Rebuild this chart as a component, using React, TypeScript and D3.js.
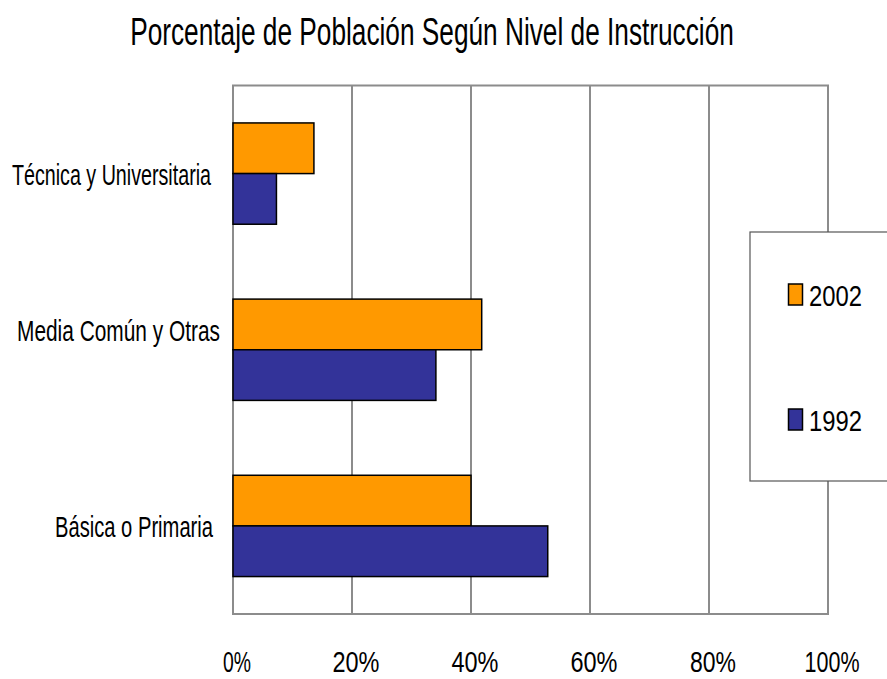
import { useEffect, useRef } from 'react'
import * as d3 from 'd3'

const categories = ['Técnica y Universitaria', 'Media Común y Otras', 'Básica o Primaria']
const series = ['2002', '1992']
const values2002 = [13.6, 41.8, 40.0]
const values1992 = [7.3, 34.1, 52.9]
const xTicks = [0, 20, 40, 60, 80, 100]
const title = 'Porcentaje de Población Según Nivel de Instrucción'

const colors: Record<string, string> = { '2002': '#FF9900', '1992': '#333399' }
const FONT = "'Liberation Sans Narrow', 'Liberation Sans', Arial, sans-serif"

const App = () => {
  const svgRef = useRef<SVGSVGElement | null>(null)
  const width = 887
  const height = 679
  const margin = { top: 85.5, right: 59, bottom: 65, left: 233 }

  useEffect(() => {
    if (!svgRef.current) return
    const svg = d3.select(svgRef.current)
    svg.selectAll('*').remove()

    const x = d3.scaleLinear().domain([0, 100]).range([margin.left, width - margin.right])
    const y = d3.scaleBand().domain(categories).range([margin.top, height - margin.bottom])
    const groupH = y.bandwidth() * 0.575
    const inner = d3.scaleBand().domain(series).range([0, groupH])

    // plot frame + vertical gridlines
    svg.append('rect')
      .attr('x', x(0)).attr('y', y.range()[0])
      .attr('width', x(100) - x(0)).attr('height', y.range()[1] - y.range()[0])
      .attr('fill', 'none').attr('stroke', '#8c8c8c').attr('stroke-width', 2)

    svg.append('g').selectAll('line')
      .data(xTicks.slice(1))
      .enter().append('line')
      .attr('x1', d => x(d)).attr('x2', d => x(d))
      .attr('y1', y.range()[0]).attr('y2', y.range()[1])
      .attr('stroke', '#8c8c8c').attr('stroke-width', 2)

    // bars
    const rows = categories.map((c, i) => ({ c, v: { '2002': values2002[i], '1992': values1992[i] } as Record<string, number> }))
    const g = svg.append('g')
    rows.forEach(r => {
      const y0 = (y(r.c) as number) + (y.bandwidth() - groupH) / 2
      series.forEach(s => {
        g.append('rect')
          .attr('x', x(0))
          .attr('y', y0 + (inner(s) as number))
          .attr('width', x(r.v[s]) - x(0))
          .attr('height', inner.bandwidth())
          .attr('fill', colors[s])
          .attr('stroke', '#000').attr('stroke-width', 1.5)
      })
    })

    // category labels
    const labelEnd = [211, 220, 213]
    const labelLen = [199, 203, 158]
    const labelShift = [0, -20, 0]
    svg.append('g').selectAll('text')
      .data(categories)
      .enter().append('text')
      .attr('x', (_, i) => labelEnd[i])
      .attr('y', (d, i) => (y(d) as number) + y.bandwidth() / 2 + 11 + labelShift[i])
      .attr('text-anchor', 'end')
      .attr('textLength', (_, i) => labelLen[i])
      .attr('lengthAdjust', 'spacingAndGlyphs')
      .style('font-family', FONT).style('font-size', '30px')
      .text(d => d)

    // x tick labels
    const tickLen: Record<number, number> = { 0: 28, 20: 47, 40: 47, 60: 47, 80: 46, 100: 55 }
    svg.append('g').selectAll('text')
      .data(xTicks)
      .enter().append('text')
      .attr('x', d => x(d) + 4)
      .attr('y', 672)
      .attr('text-anchor', 'middle')
      .attr('textLength', d => tickLen[d])
      .attr('lengthAdjust', 'spacingAndGlyphs')
      .style('font-family', FONT).style('font-size', '29px')
      .text(d => `${d}%`)

    // legend
    const lg = svg.append('g')
    lg.append('rect')
      .attr('x', 750).attr('y', 232).attr('width', 150).attr('height', 249)
      .attr('fill', '#fff').attr('stroke', '#555').attr('stroke-width', 1.2)
    const ly = d3.scalePoint().domain(series).range([306, 431])
    series.forEach(s => {
      const by = ly(s) as number
      lg.append('rect')
        .attr('x', 788.5).attr('y', by - 22).attr('width', 14).attr('height', 21)
        .attr('fill', colors[s]).attr('stroke', '#000').attr('stroke-width', 1.5)
      lg.append('text')
        .attr('x', 809).attr('y', by)
        .attr('textLength', 53).attr('lengthAdjust', 'spacingAndGlyphs')
        .style('font-family', FONT).style('font-size', '29px')
        .text(s)
    })

    // title, squeezed horizontally to the reference width
    const t = svg.append('text')
      .attr('x', 0).attr('y', 0)
      .attr('text-anchor', 'middle')
      .style('font-family', FONT).style('font-size', '38px')
      .text(title)
    const natural = (t.node() as SVGTextElement).getComputedTextLength() || 604
    t.attr('transform', `translate(432,45) scale(${604 / natural},1)`)
  }, [])

  return (
    <svg
      ref={svgRef}
      width={width}
      height={height}
      style={{ position: 'absolute', left: 0, top: 0, background: '#fff' }}
    />
  )
}

export default App
